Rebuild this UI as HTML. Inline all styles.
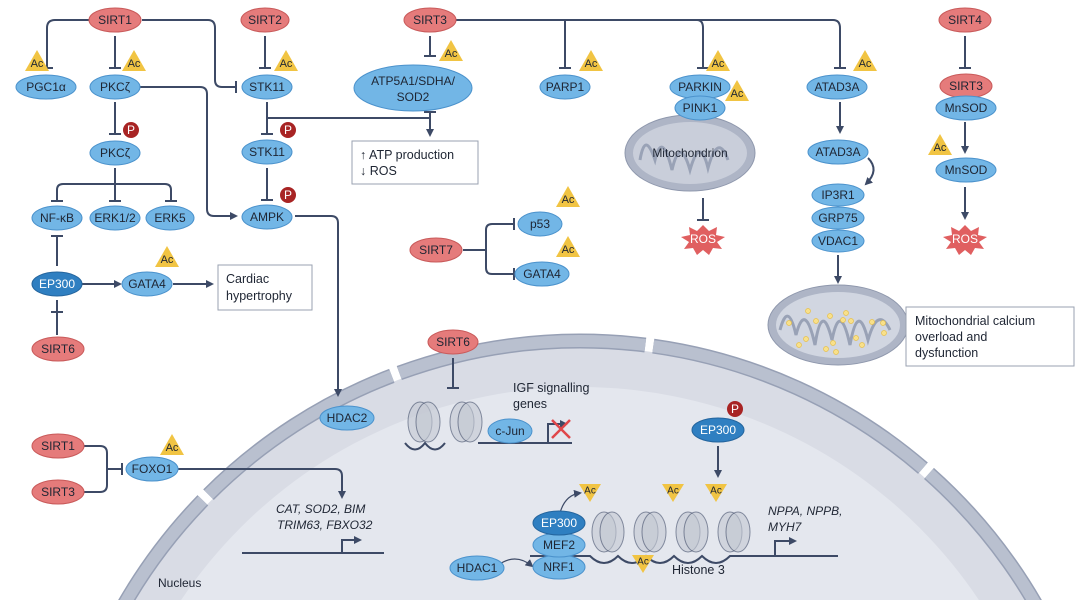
<!DOCTYPE html>
<html><head><meta charset="utf-8"><style>
html,body{margin:0;padding:0;background:#fff;width:1080px;height:600px;overflow:hidden}
svg{display:block}
text{font-family:"Liberation Sans",sans-serif;fill:#1e2533}
.n{font-size:12px;text-anchor:middle;dominant-baseline:central}
.l{stroke:#3d4a66;stroke-width:2;fill:none}
.b{fill:#72b6e6;stroke:#4b92cc;stroke-width:1}
.d{fill:#2f7fc1;stroke:#24659e;stroke-width:1}
.r{fill:#e57b7b;stroke:#c95a5a;stroke-width:1}
.box{fill:#fff;stroke:#9aa2b0;stroke-width:1}
.ac{fill:#f1c443}
.nuc{fill:#c4c9d3;stroke:#3e4a66;stroke-width:1;opacity:.6}
</style></head><body>
<svg width="1080" height="600" viewBox="0 0 1080 600" xmlns="http://www.w3.org/2000/svg" style="overflow:hidden">
<defs>
<marker id="a" markerWidth="8" markerHeight="8" refX="6" refY="4" orient="auto" markerUnits="userSpaceOnUse"><path d="M0,0 L8,4 L0,8 z" fill="#3d4a66"/></marker>
<clipPath id="cp"><rect x="0" y="0" width="1080" height="600"/></clipPath>
</defs>
<g clip-path="url(#cp)">
<circle cx="580" cy="867" r="520" fill="#d9dce5"/>
<circle cx="580" cy="867" r="480" fill="#e4e7ee"/>
<circle cx="580" cy="867" r="526" fill="none" stroke="#97a0b5" stroke-width="15" stroke-dasharray="300 8 220 8 250 8 300 8 240 8 400 8"/>
<circle cx="580" cy="867" r="526" fill="none" stroke="#b9c0cf" stroke-width="12" stroke-dasharray="300 8 220 8 250 8 300 8 240 8 400 8"/>
</g>
<text x="158" y="587" style="font-size:12px">Nucleus</text>

<path class="l" d="M90,20 H55 Q47,20 47,28 V68 M41,68 H53"/>
<path class="l" d="M115,36 V68 M109,68 H121"/>
<path class="l" d="M142,20 H208 Q215,20 215,28 V80 Q215,87 222,87 H236 M236,81 V93"/>
<path class="l" d="M265,36 V68 M259,68 H271"/>
<path class="l" d="M140,87 H200 Q207,87 207,94 V209 Q207,216 214,216 H236" marker-end="url(#a)"/>
<path class="l" d="M115,102 V134 M109,134 H121"/>
<path class="l" d="M115,168 V184 M57,200 V190 Q57,184 63,184 H165 Q171,184 171,190 V200 M51,201 H63 M115,184 V200 M109,201 H121 M165,201 H177"/>
<path class="l" d="M267,102 V134 M261,134 H273 M267,118 H430 M430,112 V135" marker-end="url(#a)"/>
<path class="l" d="M424,112 H436"/>
<path class="l" d="M267,168 V200 M261,200 H273"/>
<path class="l" d="M295,216 H331 Q338,216 338,223 V395" marker-end="url(#a)"/>
<path class="l" d="M430,36 V56 M424,56 H436"/>
<path class="l" d="M456,20 H833 Q840,20 840,28 V68 M834,68 H846 M565,20 V68 M559,68 H571 M697,20 Q703,20 703,28 V68 M697,68 H709"/>
<path class="l" d="M57,300 V330 M57,235 V266 M51,236 H63"/>
<path class="l" d="M82,284 H120" marker-end="url(#a)"/>
<path class="l" d="M173,284 H212" marker-end="url(#a)"/>
<path class="l" d="M57,335 V312 M51,312 H63"/>
<path class="l" d="M463,250 H480 M486,230 Q486,224 492,224 H514 M486,268 Q486,274 492,274 H514 M486,230 V268 M480,250 H486 M514,218 V230 M514,268 V280"/>
<path class="l" d="M703,198 V220 M697,220 H709"/>
<path class="l" d="M840,102 V132" marker-end="url(#a)"/>
<path class="l" d="M868,158 Q880,170 866,184" marker-end="url(#a)"/>
<path class="l" d="M838,255 V282" marker-end="url(#a)"/>
<path class="l" d="M965,36 V68 M959,68 H971"/>
<path class="l" d="M965,122 V152" marker-end="url(#a)"/>
<path class="l" d="M965,187 V218" marker-end="url(#a)"/>
<path class="l" d="M905,326 L892,326 L880,318" style="stroke:#9aa2b0;stroke-width:1"/>
<path class="l" d="M453,358 V388 M447,388 H459"/>
<path class="l" d="M84,446 H100 Q107,446 107,453 V485 Q107,492 100,492 H84 M107,469 H122 M122,463 V475"/>
<path class="l" d="M178,469 H335 Q342,469 342,476 V497" marker-end="url(#a)"/>
<path class="l" d="M242,553 H384 M342,553 V540 H360" marker-end="url(#a)"/>
<path class="l" d="M718,446 V476" marker-end="url(#a)"/>
<path class="l" d="M530,556 H590 Q604,570 618,556 Q632,570 646,556 Q660,570 674,556 Q688,570 702,556 Q716,570 730,556 H838 M775,556 V541 H795" marker-end="url(#a)"/>
<path class="l" d="M405,443 Q415,456 425,443 Q435,456 445,443 M478,443 H572 M548,443 V424 H566" marker-end="url(#a)"/>
<path class="l" d="M497,566 Q515,552 532,566" style="stroke-width:1.2" marker-end="url(#a)"/>
<path class="l" d="M560,513 Q565,495 580,493" style="stroke-width:1.2" marker-end="url(#a)"/>
<g>
<ellipse class="nuc" cx="420" cy="422" rx="12" ry="20"/><ellipse class="nuc" cx="428" cy="422" rx="12" ry="20"/>
<ellipse class="nuc" cx="462" cy="422" rx="12" ry="20"/><ellipse class="nuc" cx="470" cy="422" rx="12" ry="20"/>
<ellipse class="nuc" cx="604" cy="532" rx="12" ry="20"/><ellipse class="nuc" cx="612" cy="532" rx="12" ry="20"/>
<ellipse class="nuc" cx="646" cy="532" rx="12" ry="20"/><ellipse class="nuc" cx="654" cy="532" rx="12" ry="20"/>
<ellipse class="nuc" cx="688" cy="532" rx="12" ry="20"/><ellipse class="nuc" cx="696" cy="532" rx="12" ry="20"/>
<ellipse class="nuc" cx="730" cy="532" rx="12" ry="20"/><ellipse class="nuc" cx="738" cy="532" rx="12" ry="20"/>
</g>
<path d="M552,420 L570,438 M570,420 L552,438" stroke="#e0474a" stroke-width="2.5"/>

<ellipse cx="690" cy="153" rx="65" ry="38" fill="#aeb5c6" stroke="#8f98ad"/>
<ellipse cx="690" cy="153" rx="57" ry="31" fill="#c9ceda"/>
<path d="M640,160 Q645,130 655,160 Q662,130 672,170 Q680,135 690,170 Q700,135 708,168 Q718,132 728,160" fill="none" stroke="#99a2b6" stroke-width="3"/>
<text x="690" y="153" class="n" style="font-size:12px">Mitochondrion</text>
<ellipse cx="838" cy="325" rx="70" ry="40" fill="#aeb5c6" stroke="#8f98ad"/>
<ellipse cx="838" cy="325" rx="62" ry="33" fill="#d1d6e1"/>
<path d="M780,330 Q788,300 796,335 Q805,300 815,345 Q822,300 832,340 Q840,300 850,345 Q858,300 868,340 Q878,305 890,330" fill="none" stroke="#99a2b6" stroke-width="3"/>
<g fill="#f8e08a" stroke="#e8c04a" stroke-width=".7">
<circle cx="789" cy="323" r="2.5"/><circle cx="808" cy="311" r="2.5"/><circle cx="816" cy="321" r="2.5"/><circle cx="799" cy="345" r="2.5"/><circle cx="806" cy="339" r="2.5"/><circle cx="830" cy="316" r="2.5"/><circle cx="846" cy="313" r="2.5"/><circle cx="843" cy="320" r="2.5"/><circle cx="851" cy="321" r="2.5"/><circle cx="833" cy="343" r="2.5"/><circle cx="856" cy="338" r="2.5"/><circle cx="862" cy="345" r="2.5"/><circle cx="872" cy="322" r="2.5"/><circle cx="883" cy="323" r="2.5"/><circle cx="884" cy="333" r="2.5"/><circle cx="826" cy="349" r="2.5"/><circle cx="836" cy="352" r="2.5"/></g>

<rect class="box" x="352" y="141" width="126" height="43"/>
<text x="360" y="159" style="font-size:12.5px">↑ ATP production</text>
<text x="360" y="175" style="font-size:12.5px">↓ ROS</text>
<rect class="box" x="218" y="265" width="94" height="45"/>
<text x="226" y="283" style="font-size:12.5px">Cardiac</text>
<text x="226" y="300" style="font-size:12.5px">hypertrophy</text>
<rect class="box" x="906" y="307" width="168" height="59"/>
<text x="915" y="325" style="font-size:12.5px">Mitochondrial calcium</text>
<text x="915" y="341" style="font-size:12.5px">overload and</text>
<text x="915" y="357" style="font-size:12.5px">dysfunction</text>

<text x="513" y="392" style="font-size:12.5px">IGF signalling</text>
<text x="513" y="408" style="font-size:12.5px">genes</text>
<text x="276" y="513" style="font-size:12px;font-style:italic">CAT, SOD2, BIM</text>
<text x="277" y="529" style="font-size:12px;font-style:italic">TRIM63, FBXO32</text>
<text x="768" y="515" style="font-size:12px;font-style:italic">NPPA, NPPB,</text>
<text x="768" y="531" style="font-size:12px;font-style:italic">MYH7</text>
<text x="672" y="574" style="font-size:12.5px">Histone 3</text>

<g>
<g transform="translate(25,50)"><path class="ac" d="M0,21 L12,0 L24,21 z"/><text x="12" y="14" class="n" style="font-size:11px">Ac</text></g>
<g transform="translate(122,50)"><path class="ac" d="M0,21 L12,0 L24,21 z"/><text x="12" y="14" class="n" style="font-size:11px">Ac</text></g>
<g transform="translate(274,50)"><path class="ac" d="M0,21 L12,0 L24,21 z"/><text x="12" y="14" class="n" style="font-size:11px">Ac</text></g>
<g transform="translate(439,40)"><path class="ac" d="M0,21 L12,0 L24,21 z"/><text x="12" y="14" class="n" style="font-size:11px">Ac</text></g>
<g transform="translate(579,50)"><path class="ac" d="M0,21 L12,0 L24,21 z"/><text x="12" y="14" class="n" style="font-size:11px">Ac</text></g>
<g transform="translate(706,50)"><path class="ac" d="M0,21 L12,0 L24,21 z"/><text x="12" y="14" class="n" style="font-size:11px">Ac</text></g>
<g transform="translate(725,80)"><path class="ac" d="M0,21 L12,0 L24,21 z"/><text x="12" y="14" class="n" style="font-size:11px">Ac</text></g>
<g transform="translate(853,50)"><path class="ac" d="M0,21 L12,0 L24,21 z"/><text x="12" y="14" class="n" style="font-size:11px">Ac</text></g>
<g transform="translate(928,134)"><path class="ac" d="M0,21 L12,0 L24,21 z"/><text x="12" y="14" class="n" style="font-size:11px">Ac</text></g>
<g transform="translate(155,246)"><path class="ac" d="M0,21 L12,0 L24,21 z"/><text x="12" y="14" class="n" style="font-size:11px">Ac</text></g>
<g transform="translate(556,186)"><path class="ac" d="M0,21 L12,0 L24,21 z"/><text x="12" y="14" class="n" style="font-size:11px">Ac</text></g>
<g transform="translate(556,236)"><path class="ac" d="M0,21 L12,0 L24,21 z"/><text x="12" y="14" class="n" style="font-size:11px">Ac</text></g>
<g transform="translate(160,434)"><path class="ac" d="M0,21 L12,0 L24,21 z"/><text x="12" y="14" class="n" style="font-size:11px">Ac</text></g>
<g transform="translate(579,484)"><path class="ac" d="M0,0 L22,0 L11,18 z"/><text x="11" y="7" class="n" style="font-size:10px">Ac</text></g>
<g transform="translate(662,484)"><path class="ac" d="M0,0 L22,0 L11,18 z"/><text x="11" y="7" class="n" style="font-size:10px">Ac</text></g>
<g transform="translate(705,484)"><path class="ac" d="M0,0 L22,0 L11,18 z"/><text x="11" y="7" class="n" style="font-size:10px">Ac</text></g>
<g transform="translate(632,555)"><path class="ac" d="M0,0 L22,0 L11,18 z"/><text x="11" y="7" class="n" style="font-size:10px">Ac</text></g>
</g>
<g fill="#a82424">
<circle cx="131" cy="130" r="8"/><circle cx="288" cy="130" r="8"/><circle cx="288" cy="195" r="8"/><circle cx="735" cy="409" r="8"/>
</g>
<g><text x="131" y="130" class="n" style="fill:#fff">P</text><text x="288" y="130" class="n" style="fill:#fff">P</text><text x="288" y="195" class="n" style="fill:#fff">P</text><text x="735" y="409" class="n" style="fill:#fff">P</text></g>

<g>
<ellipse class="r" cx="115" cy="20" rx="26" ry="12"/><text x="115" y="20" class="n">SIRT1</text>
<ellipse class="r" cx="265" cy="20" rx="24" ry="12"/><text x="265" y="20" class="n">SIRT2</text>
<ellipse class="r" cx="430" cy="20" rx="26" ry="12"/><text x="430" y="20" class="n">SIRT3</text>
<ellipse class="r" cx="965" cy="20" rx="26" ry="12"/><text x="965" y="20" class="n">SIRT4</text>
<ellipse class="b" cx="46" cy="87" rx="30" ry="12"/><text x="46" y="87" class="n">PGC1α</text>
<ellipse class="b" cx="115" cy="87" rx="25" ry="12"/><text x="115" y="87" class="n">PKCζ</text>
<ellipse class="b" cx="267" cy="87" rx="25" ry="12"/><text x="267" y="87" class="n">STK11</text>
<ellipse class="b" cx="413" cy="88" rx="59" ry="23"/><text x="413" y="81" class="n">ATP5A1/SDHA/</text><text x="413" y="97" class="n">SOD2</text>
<ellipse class="b" cx="565" cy="87" rx="25" ry="12"/><text x="565" y="87" class="n">PARP1</text>
<ellipse class="b" cx="700" cy="87" rx="30" ry="12"/><text x="700" y="87" class="n">PARKIN</text>
<ellipse class="b" cx="700" cy="108" rx="25" ry="12"/><text x="700" y="108" class="n">PINK1</text>
<ellipse class="b" cx="837" cy="87" rx="30" ry="12"/><text x="837" y="87" class="n">ATAD3A</text>
<ellipse class="r" cx="966" cy="86" rx="26" ry="12"/><text x="966" y="86" class="n">SIRT3</text>
<ellipse class="b" cx="966" cy="108" rx="30" ry="12"/><text x="966" y="108" class="n">MnSOD</text>
<ellipse class="b" cx="115" cy="153" rx="25" ry="12"/><text x="115" y="153" class="n">PKCζ</text>
<ellipse class="b" cx="267" cy="152" rx="25" ry="12"/><text x="267" y="152" class="n">STK11</text>
<ellipse class="b" cx="838" cy="152" rx="30" ry="12"/><text x="838" y="152" class="n">ATAD3A</text>
<ellipse class="b" cx="966" cy="170" rx="30" ry="12"/><text x="966" y="170" class="n">MnSOD</text>
<ellipse class="b" cx="838" cy="195" rx="26" ry="11"/><text x="838" y="195" class="n">IP3R1</text>
<ellipse class="b" cx="838" cy="218" rx="26" ry="11"/><text x="838" y="218" class="n">GRP75</text>
<ellipse class="b" cx="838" cy="241" rx="26" ry="11"/><text x="838" y="241" class="n">VDAC1</text>
<ellipse class="b" cx="57" cy="218" rx="25" ry="12"/><text x="57" y="218" class="n">NF-κB</text>
<ellipse class="b" cx="115" cy="218" rx="25" ry="12"/><text x="115" y="218" class="n">ERK1/2</text>
<ellipse class="b" cx="170" cy="218" rx="24" ry="12"/><text x="170" y="218" class="n">ERK5</text>
<ellipse class="b" cx="267" cy="217" rx="25" ry="12"/><text x="267" y="217" class="n">AMPK</text>
<ellipse class="d" cx="57" cy="284" rx="25" ry="12"/><text x="57" y="284" class="n" style="fill:#fff">EP300</text>
<ellipse class="b" cx="147" cy="284" rx="25" ry="12"/><text x="147" y="284" class="n">GATA4</text>
<ellipse class="r" cx="58" cy="349" rx="26" ry="12"/><text x="58" y="349" class="n">SIRT6</text>
<ellipse class="r" cx="436" cy="250" rx="26" ry="12"/><text x="436" y="250" class="n">SIRT7</text>
<ellipse class="b" cx="540" cy="224" rx="22" ry="12"/><text x="540" y="224" class="n">p53</text>
<ellipse class="b" cx="542" cy="274" rx="27" ry="12"/><text x="542" y="274" class="n">GATA4</text>
<ellipse class="r" cx="453" cy="342" rx="25" ry="12"/><text x="453" y="342" class="n">SIRT6</text>
<ellipse class="b" cx="347" cy="418" rx="27" ry="12"/><text x="347" y="418" class="n">HDAC2</text>
<ellipse class="b" cx="510" cy="431" rx="22" ry="12"/><text x="510" y="431" class="n">c-Jun</text>
<ellipse class="r" cx="58" cy="446" rx="26" ry="12"/><text x="58" y="446" class="n">SIRT1</text>
<ellipse class="r" cx="58" cy="492" rx="26" ry="12"/><text x="58" y="492" class="n">SIRT3</text>
<ellipse class="b" cx="152" cy="469" rx="26" ry="12"/><text x="152" y="469" class="n">FOXO1</text>
<ellipse class="d" cx="718" cy="430" rx="26" ry="12"/><text x="718" y="430" class="n" style="fill:#fff">EP300</text>
<ellipse class="b" cx="559" cy="567" rx="26" ry="12"/><text x="559" y="567" class="n">NRF1</text>
<ellipse class="b" cx="559" cy="545" rx="26" ry="12"/><text x="559" y="545" class="n">MEF2</text>
<ellipse class="d" cx="559" cy="523" rx="26" ry="12"/><text x="559" y="523" class="n" style="fill:#fff">EP300</text>
<ellipse class="b" cx="477" cy="568" rx="27" ry="12"/><text x="477" y="568" class="n">HDAC1</text>
</g>
<g fill="#e05f60">
<polygon points="703,225 709,231 717,227 716,235 725,237 717,242 722,249 713,248 709,255 703,250 697,255 693,248 684,249 689,242 681,237 690,235 689,227 697,231"/>
<polygon points="965,225 971,231 979,227 978,235 987,237 979,242 984,249 975,248 971,255 965,250 959,255 955,248 946,249 951,242 943,237 952,235 951,227 959,231"/>
</g>
<text x="703" y="239" class="n" style="fill:#fff">ROS</text>
<text x="965" y="239" class="n" style="fill:#fff">ROS</text>
</svg>
</body></html>
